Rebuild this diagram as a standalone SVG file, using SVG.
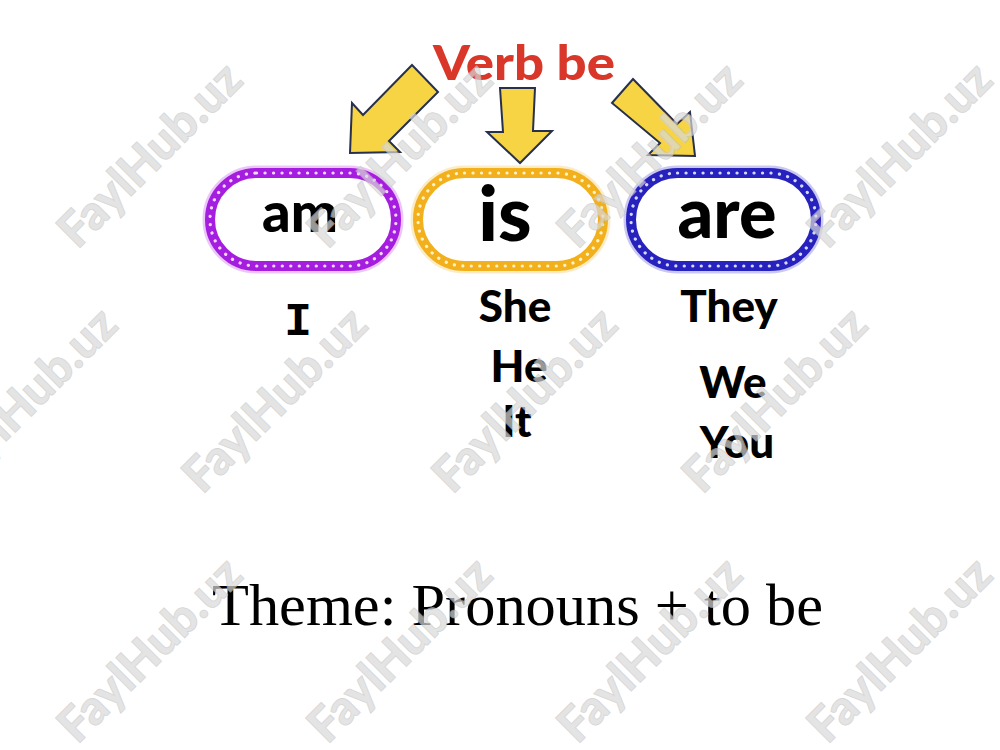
<svg xmlns="http://www.w3.org/2000/svg" width="1000" height="750" viewBox="0 0 1000 750">
  <style>
    .word { font-family: Lato, "Open Sans", "Liberation Sans", sans-serif; font-weight: 900; fill: #000; text-anchor: middle; }
    .pron { font-family: Lato, "Open Sans", "Liberation Sans", sans-serif; font-weight: 900; font-size: 44px; fill: #000; text-anchor: middle; }
    .title { font-family: Lato, "Open Sans", "Liberation Sans", sans-serif; font-weight: 900; font-size: 48px; fill: #d8372a; }
    .theme { font-family: "Liberation Serif", "Times New Roman", serif; font-size: 60px; fill: #000; }
    .arrow { fill: #f6d443; stroke: #27304d; stroke-width: 2; stroke-linejoin: miter; }
    .pill { fill: #fff; stroke-width: 10; }
    .glow { fill: none; stroke-width: 15; opacity: 0.25; }
    .dots { fill: none; stroke-width: 3.2; stroke-linecap: round; stroke-dasharray: 0.1 8.4; }
    .wm { font-family: Lato, "Liberation Sans", sans-serif; font-weight: 900; font-size: 48px; fill: #d9d9d9; stroke: #c6c6c6; stroke-width: 0.8; text-anchor: middle; opacity: 0.7; }
  </style>
  <rect width="1000" height="750" fill="#fff"/>

  <g id="title">
    <text class="title" x="433" y="80" textLength="182" lengthAdjust="spacingAndGlyphs">Verb be</text>
  </g>

  <g id="connectors">
    <polygon class="arrow" points="412,65 438,92 389,141 400,152 350,153 352,103 363,115"/>
    <polygon class="arrow" points="500,88 535,88 533,131 552,131 520,163 487,132 503,132"/>
    <polygon class="arrow" points="633,79 677,124 690,112 695,156 648,155 660,143 612,103"/>
  </g>

  <g id="node-am">
    <rect class="glow" x="210" y="173" width="186" height="93" rx="46.5" stroke="#b020e8"/>
    <rect class="pill" x="210" y="173" width="186" height="93" rx="46.5" stroke="#a51ee0"/>
    <rect class="dots" x="210" y="173" width="186" height="93" rx="46.5" stroke="#f6d8ff"/>
    <text class="word" x="300" y="232" font-size="56">am</text>
  </g>

  <g id="node-is">
    <rect class="glow" x="418" y="173" width="185" height="93" rx="46.5" stroke="#f4b21a"/>
    <rect class="pill" x="418" y="173" width="185" height="93" rx="46.5" stroke="#f2b01c"/>
    <rect class="dots" x="418" y="173" width="185" height="93" rx="46.5" stroke="#fff2c8"/>
    <text class="word" x="505" y="241" font-size="76">is</text>
  </g>

  <g id="node-are">
    <rect class="glow" x="631" y="173" width="185" height="93" rx="46.5" stroke="#2a24c8"/>
    <rect class="pill" x="631" y="173" width="185" height="93" rx="46.5" stroke="#2722bd"/>
    <rect class="dots" x="631" y="173" width="185" height="93" rx="46.5" stroke="#d6d8ff"/>
    <text class="word" x="727" y="238" font-size="70">are</text>
  </g>

  <g id="pronouns-am">
    <text x="298" y="335" font-family="'Liberation Mono', 'DejaVu Sans Mono', monospace" font-weight="700" font-size="46" text-anchor="middle">I</text>
  </g>

  <g id="pronouns-is">
    <text class="pron" x="515" y="322">She</text>
    <text class="pron" x="519" y="382">He</text>
    <text class="pron" x="517" y="437">It</text>
  </g>

  <g id="pronouns-are">
    <text class="pron" x="729" y="322">They</text>
    <text class="pron" x="733" y="398" font-size="42">We</text>
    <text class="pron" x="737" y="458" font-size="41">You</text>
  </g>

  <g id="theme">
    <text class="theme" x="212" y="625" textLength="611" lengthAdjust="spacingAndGlyphs">Theme: Pronouns + to be</text>
  </g>

  <g id="watermarks">
    <text class="wm" transform="translate(150,155) rotate(-45)" y="16">FaylHub.uz</text>
    <text class="wm" transform="translate(400,155) rotate(-45)" y="16">FaylHub.uz</text>
    <text class="wm" transform="translate(650,155) rotate(-45)" y="16">FaylHub.uz</text>
    <text class="wm" transform="translate(900,155) rotate(-45)" y="16">FaylHub.uz</text>
    <text class="wm" transform="translate(25,400) rotate(-45)" y="16">FaylHub.uz</text>
    <text class="wm" transform="translate(275,400) rotate(-45)" y="16">FaylHub.uz</text>
    <text class="wm" transform="translate(525,400) rotate(-45)" y="16">FaylHub.uz</text>
    <text class="wm" transform="translate(775,400) rotate(-45)" y="16">FaylHub.uz</text>
    <text class="wm" transform="translate(150,650) rotate(-45)" y="16">FaylHub.uz</text>
    <text class="wm" transform="translate(400,650) rotate(-45)" y="16">FaylHub.uz</text>
    <text class="wm" transform="translate(650,650) rotate(-45)" y="16">FaylHub.uz</text>
    <text class="wm" transform="translate(900,650) rotate(-45)" y="16">FaylHub.uz</text>
  </g>
</svg>
